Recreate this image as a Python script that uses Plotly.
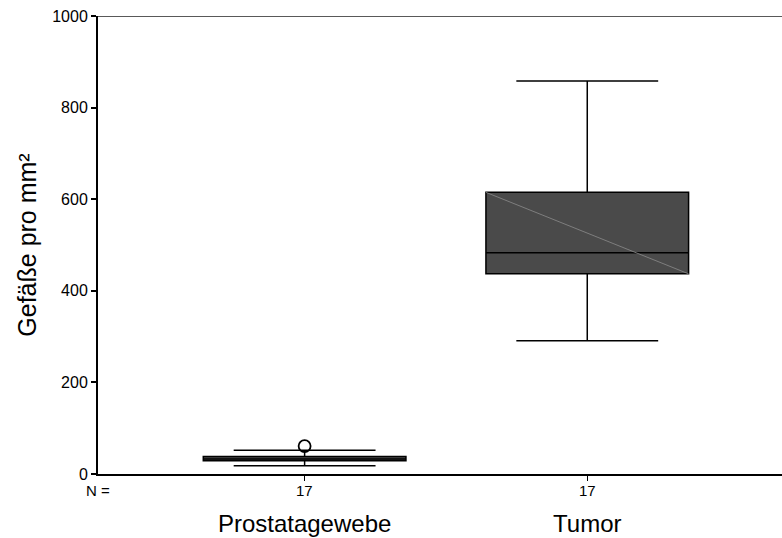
import plotly.graph_objects as go

# Gefäßdichte (Gefäße pro mm²) – Boxplot je Gewebeart
categories = ["Prostatagewebe", "Tumor"]
n_cases = [17, 17]
lower_whisker = [18, 291]
q1_values = [29, 437]
median_values = [33, 483]
q3_values = [38, 615]
upper_whisker = [52, 858]
outlier_cat = ["Prostatagewebe"]
outlier_values = [61]
y_tick_values = [0, 200, 400, 600, 800, 1000]

BOX_WIDTH = 0.717
FONT = "Liberation Sans, Arial, Helvetica, sans-serif"
FILL = "#4a4a4a"

fig = go.Figure()

for i, cat in enumerate(categories):
    fig.add_trace(go.Box(
        x=[cat],
        q1=[q1_values[i]],
        median=[median_values[i]],
        q3=[q3_values[i]],
        lowerfence=[lower_whisker[i]],
        upperfence=[upper_whisker[i]],
        width=BOX_WIDTH,
        whiskerwidth=0.7,
        fillcolor=FILL,
        line=dict(color="black", width=1.5),
        boxpoints=False,
        showlegend=False,
        hoverinfo="skip",
    ))

# Ausreißer
fig.add_trace(go.Scatter(
    x=outlier_cat,
    y=outlier_values,
    mode="markers",
    marker=dict(symbol="circle-open", size=12, color="black",
                line=dict(color="black", width=1.8)),
    showlegend=False,
    hoverinfo="skip",
))

shapes = [
    # obere Rahmenlinie
    dict(type="line", xref="paper", yref="y", x0=0, x1=1,
         y0=y_tick_values[-1], y1=y_tick_values[-1],
         line=dict(color="#222222", width=1.5)),
]
# feine diagonale Linie in der Tumor-Box
t_idx = categories.index("Tumor")
shapes.append(dict(
    type="line", xref="x", yref="y",
    x0=t_idx - BOX_WIDTH / 2, x1=t_idx + BOX_WIDTH / 2,
    y0=q3_values[t_idx], y1=q1_values[t_idx],
    line=dict(color="#8c8c8c", width=0.8),
))

annotations = [
    dict(text="N =", xref="paper", yref="paper", x=0.0, y=-0.035,
         xanchor="center", yanchor="middle", showarrow=False,
         font=dict(family=FONT, size=15, color="black")),
]
for i, cat in enumerate(categories):
    annotations.append(dict(
        text=str(n_cases[i]), xref="x", yref="paper", x=i, y=-0.035,
        xanchor="center", yanchor="middle", showarrow=False,
        font=dict(family=FONT, size=15, color="black")))

fig.update_layout(
    width=782, height=538,
    margin=dict(l=98, r=0, t=16, b=64),
    paper_bgcolor="white",
    plot_bgcolor="white",
    shapes=shapes,
    annotations=annotations,
    xaxis=dict(
        type="category",
        categoryorder="array",
        categoryarray=categories,
        range=[-0.731, 1.689],
        automargin=False,
        showline=True, linecolor="black", linewidth=2,
        ticks="outside", ticklen=5, tickwidth=1, tickcolor="black",
        tickfont=dict(family=FONT, size=24, color="black"),
        ticklabelstandoff=22,
        showgrid=False, zeroline=False,
    ),
    yaxis=dict(
        range=[0, 1000],
        tickvals=y_tick_values,
        automargin=False,
        showline=True, linecolor="black", linewidth=2,
        ticks="outside", ticklen=5, tickwidth=1.5, tickcolor="black",
        tickfont=dict(family=FONT, size=16, color="black"),
        title=dict(text="Gefäße pro mm²", standoff=8,
                   font=dict(family=FONT, size=25, color="black")),
        showgrid=False, zeroline=False,
    ),
)

fig.write_html("out.html")
